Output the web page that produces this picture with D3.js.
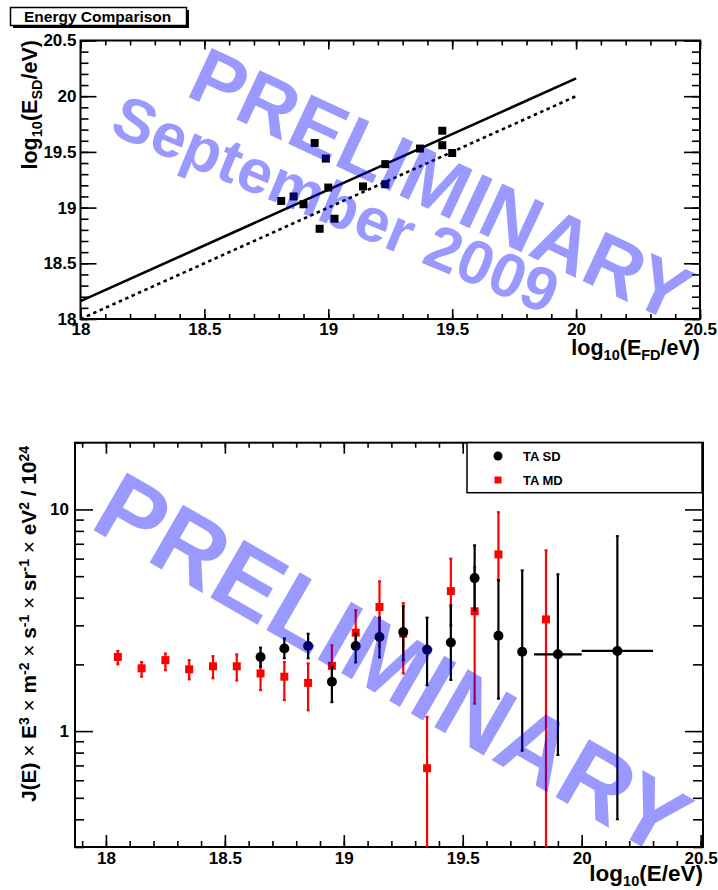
<!DOCTYPE html>
<html>
<head>
<meta charset="utf-8">
<script src="https://cdn.jsdelivr.net/npm/d3@7"></script>
<style>
  body { margin: 0; background: #fff; }
  svg { display: block; }
  text { font-family: "Liberation Sans", Arial, Helvetica, sans-serif; font-weight: bold; }
</style>
</head>
<body>
<svg id="chart" width="718" height="890"></svg>
<script>
// ---- Energy comparison: FD vs SD reconstructed energy (log10 eV) ----
const compFD = [18.81, 18.86, 18.90, 18.945, 18.965, 18.99, 19.00, 19.025, 19.14, 19.23, 19.23, 19.37, 19.46, 19.46, 19.50];
const compSD = [19.06, 19.10, 19.03, 19.58, 18.81, 19.44, 19.18, 18.90, 19.19, 19.39, 19.21, 19.53, 19.69, 19.56, 19.49];
const fitLineX = [18, 20];
const fitLineY = [18.16, 20.16];
const unityLineX = [18, 20];
const unityLineY = [18, 20];
const compTicks = [18, 18.5, 19, 19.5, 20, 20.5];

// ---- Spectrum J(E) E^3 / 10^24 ----
const sdLogE = [18.65, 18.75, 18.85, 18.95, 19.05, 19.15, 19.25, 19.35, 19.45, 19.55, 19.65, 19.75, 19.90, 20.15];
const sdFlux = [2.16, 2.36, 2.42, 1.67, 2.42, 2.66, 2.80, 2.33, 2.51, 4.90, 2.69, 2.28, 2.22, 2.30];
const sdHigh = [2.38, 2.62, 2.75, 1.95, 2.75, 3.25, 3.66, 3.25, 3.69, 6.89, 4.79, 5.31, 5.10, 7.58];
const sdLow  = [1.95, 2.13, 2.13, 1.35, 2.04, 2.15, 2.09, 1.61, 1.70, 3.51, 1.40, 0.815, 0.78, 0.40];
const sdBinLo = [null, null, null, null, null, null, null, null, null, null, null, null, 19.80, 20.00];
const sdBinHi = [null, null, null, null, null, null, null, null, null, null, null, null, 20.00, 20.30];

const mdLogE = [18.05, 18.15, 18.25, 18.35, 18.45, 18.55, 18.65, 18.75, 18.85, 18.95, 19.05, 19.15, 19.25, 19.35, 19.45, 19.55, 19.65, 19.85];
const mdFlux = [2.16, 1.92, 2.09, 1.90, 1.96, 1.96, 1.82, 1.76, 1.65, 1.97, 2.78, 3.63, 2.75, 0.68, 4.28, 3.47, 6.27, 3.19];
const mdHigh = [2.30, 2.05, 2.24, 2.09, 2.18, 2.22, 2.05, 2.05, 2.02, 2.44, 3.51, 4.74, 3.78, 1.16, 6.00, 5.50, 9.72, 6.54];
const mdLow  = [2.00, 1.76, 1.88, 1.71, 1.73, 1.69, 1.53, 1.38, 1.24, 1.70, 2.35, 2.40, 1.82, 0.10, 3.00, 1.33, 4.79, 0.10];

const specXTicks = [18, 18.5, 19, 19.5, 20, 20.5];
const specYTicks = [1, 10];
const specYMinor = [0.3, 0.4, 0.5, 0.6, 0.7, 0.8, 0.9, 2, 3, 4, 5, 6, 7, 8, 9, 20];

const seriesNames = ["TA SD", "TA MD"];
const watermarkColor = "rgb(0,0,255)";

const svg = d3.select("#chart");

function cleanAxis(g) {
  g.select(".domain").remove();
  g.selectAll(".tick line").attr("stroke", "#000").attr("stroke-width", 1.6);
  g.selectAll(".tick text").attr("fill", "#000").attr("font-size", 17).attr("font-weight", "bold")
    .attr("font-family", "'Liberation Sans', Arial, sans-serif");
}

// ===================== Upper panel =====================
const xT = d3.scaleLinear().domain([18, 20.5]).range([80.5, 700]);
const yT = d3.scaleLinear().domain([18, 20.5]).range([319, 40.5]);
const upper = svg.append("g");
const minorT = d3.range(18, 20.501, 0.1).map(v => +v.toFixed(2));

upper.append("g").attr("transform", `translate(0,${yT(18)})`)
  .call(d3.axisBottom(xT).tickValues(minorT).tickSize(-5).tickFormat("")).call(cleanAxis);
upper.append("g").attr("transform", `translate(0,${yT(18)})`)
  .call(d3.axisBottom(xT).tickValues(compTicks).tickSize(-10).tickPadding(4).tickFormat(d3.format("~g"))).call(cleanAxis);
upper.append("g").attr("transform", `translate(0,${yT(20.5)})`)
  .call(d3.axisTop(xT).tickValues(minorT).tickSize(-5).tickFormat("")).call(cleanAxis);
upper.append("g").attr("transform", `translate(0,${yT(20.5)})`)
  .call(d3.axisTop(xT).tickValues(compTicks).tickSize(-9).tickFormat("")).call(cleanAxis);
upper.append("g").attr("transform", `translate(${xT(18)},0)`)
  .call(d3.axisLeft(yT).tickValues(minorT).tickSize(-8).tickFormat("")).call(cleanAxis);
upper.append("g").attr("transform", `translate(${xT(18)},0)`)
  .call(d3.axisLeft(yT).tickValues(compTicks).tickSize(-16).tickPadding(4).tickFormat(d3.format("~g"))).call(cleanAxis);
upper.append("g").attr("transform", `translate(${xT(20.5)},0)`)
  .call(d3.axisRight(yT).tickValues(minorT).tickSize(-8).tickFormat("")).call(cleanAxis);
upper.append("g").attr("transform", `translate(${xT(20.5)},0)`)
  .call(d3.axisRight(yT).tickValues(compTicks).tickSize(-16).tickFormat("")).call(cleanAxis);

upper.append("rect").attr("x", xT(18)).attr("y", yT(20.5))
  .attr("width", xT(20.5) - xT(18)).attr("height", yT(18) - yT(20.5))
  .attr("fill", "none").attr("stroke", "#000").attr("stroke-width", 2);

const lineT = d3.line().x(d => xT(d[0])).y(d => yT(d[1]));
upper.append("path").attr("d", lineT(d3.zip(unityLineX, unityLineY)))
  .attr("stroke", "#000").attr("stroke-width", 2.6).attr("stroke-dasharray", "3.5,3.5").attr("fill", "none");
upper.append("path").attr("d", lineT(d3.zip(fitLineX, fitLineY)))
  .attr("stroke", "#000").attr("stroke-width", 2.6).attr("fill", "none");

upper.selectAll("rect.pt").data(d3.zip(compFD, compSD)).join("rect").attr("class", "pt")
  .attr("x", d => xT(d[0]) - 4).attr("y", d => yT(d[1]) - 4)
  .attr("width", 8).attr("height", 8).attr("fill", "#000");

// title box
svg.append("rect").attr("x", 13).attr("y", 10).attr("width", 176).attr("height", 18).attr("fill", "#000");
svg.append("rect").attr("x", 10.5).attr("y", 7.5).attr("width", 176).attr("height", 18)
  .attr("fill", "#fff").attr("stroke", "#000").attr("stroke-width", 1.5);
svg.append("text").attr("x", 24).attr("y", 22).attr("font-size", 15.5).text("Energy Comparison");

// axis titles with sub/superscripts
function subTitle(sel, parts, small) {
  parts.forEach(p => {
    sel.append("tspan").attr("font-size", (p.sub || p.sup) ? small : null)
      .attr("baseline-shift", p.sub ? "-35%" : p.sup ? "50%" : null)
      .attr("font-weight", p.normal ? "normal" : "bold")
      .text(p.t);
  });
}
const xTitleT = svg.append("text").attr("x", 700).attr("y", 355).attr("text-anchor", "end").attr("font-size", 21.5);
subTitle(xTitleT, [{t: "log"}, {t: "10", sub: true}, {t: "(E"}, {t: "FD", sub: true}, {t: "/eV)"}], 14.5);
const yTitleT = svg.append("text").attr("transform", "translate(37,40) rotate(-90)").attr("text-anchor", "end").attr("font-size", 21.5);
subTitle(yTitleT, [{t: "log"}, {t: "10", sub: true}, {t: "(E"}, {t: "SD", sub: true}, {t: "/eV)"}], 14.5);

// ===================== Lower panel =====================
const xB = d3.scaleLinear().domain([17.87, 20.51]).range([75, 703]);
const yB = d3.scaleLog().domain([0.3, 20]).range([847, 442.7]);
const lower = svg.append("g");
const minorB = d3.range(17.9, 20.501, 0.1).map(v => +v.toFixed(2));

lower.append("g").attr("transform", `translate(0,${yB(0.3)})`)
  .call(d3.axisBottom(xB).tickValues(minorB).tickSize(-6).tickFormat("")).call(cleanAxis);
lower.append("g").attr("transform", `translate(0,${yB(0.3)})`)
  .call(d3.axisBottom(xB).tickValues(specXTicks).tickSize(-12).tickPadding(5).tickFormat(d3.format("~g"))).call(cleanAxis);
lower.append("g").attr("transform", `translate(0,${yB(20)})`)
  .call(d3.axisTop(xB).tickValues(minorB).tickSize(-5).tickFormat("")).call(cleanAxis);
lower.append("g").attr("transform", `translate(0,${yB(20)})`)
  .call(d3.axisTop(xB).tickValues(specXTicks).tickSize(-11).tickFormat("")).call(cleanAxis);
lower.append("g").attr("transform", `translate(${xB.range()[0]},0)`)
  .call(d3.axisLeft(yB).tickValues(specYMinor).tickSize(-9).tickFormat("")).call(cleanAxis);
lower.append("g").attr("transform", `translate(${xB.range()[0]},0)`)
  .call(d3.axisLeft(yB).tickValues(specYTicks).tickSize(-18).tickPadding(6).tickFormat(d3.format("~g"))).call(cleanAxis);
lower.append("g").attr("transform", `translate(${xB.range()[1]},0)`)
  .call(d3.axisRight(yB).tickValues(specYMinor).tickSize(-10).tickFormat("")).call(cleanAxis);
lower.append("g").attr("transform", `translate(${xB.range()[1]},0)`)
  .call(d3.axisRight(yB).tickValues(specYTicks).tickSize(-18).tickFormat("")).call(cleanAxis);

lower.append("rect").attr("x", xB.range()[0]).attr("y", yB(20))
  .attr("width", xB.range()[1] - xB.range()[0]).attr("height", yB(0.3) - yB(20))
  .attr("fill", "none").attr("stroke", "#000").attr("stroke-width", 2);

svg.append("clipPath").attr("id", "plotClip").append("rect")
  .attr("x", xB.range()[0]).attr("y", yB(20))
  .attr("width", xB.range()[1] - xB.range()[0]).attr("height", yB(0.3) - yB(20));
const marks = lower.append("g").attr("clip-path", "url(#plotClip)");

// TA MD (red squares)
const md = d3.range(mdLogE.length).map(i => ({x: mdLogE[i], y: mdFlux[i], hi: mdHigh[i], lo: mdLow[i]}));
const mdG = marks.append("g");
mdG.selectAll("line.eb").data(md).join("line").attr("class", "eb")
  .attr("x1", d => xB(d.x)).attr("x2", d => xB(d.x))
  .attr("y1", d => yB(d.hi)).attr("y2", d => yB(d.lo))
  .attr("stroke", "#f00").attr("stroke-width", 2.2);
mdG.selectAll("line.cap").data(md.flatMap(d => [d.hi, d.lo].map(v => ({x: d.x, v})))).join("line").attr("class", "cap")
  .attr("x1", d => xB(d.x) - 1.5).attr("x2", d => xB(d.x) + 1.5)
  .attr("y1", d => yB(d.v)).attr("y2", d => yB(d.v))
  .attr("stroke", "#f00").attr("stroke-width", 2);
mdG.selectAll("rect").data(md).join("rect")
  .attr("x", d => xB(d.x) - 4).attr("y", d => yB(d.y) - 4)
  .attr("width", 8).attr("height", 8).attr("fill", "#f00");

// TA SD (black circles)
const sd = d3.range(sdLogE.length).map(i => ({x: sdLogE[i], y: sdFlux[i], hi: sdHigh[i], lo: sdLow[i], bl: sdBinLo[i], bh: sdBinHi[i]}));
const sdG = marks.append("g");
sdG.selectAll("line.eb").data(sd).join("line").attr("class", "eb")
  .attr("x1", d => xB(d.x)).attr("x2", d => xB(d.x))
  .attr("y1", d => yB(d.hi)).attr("y2", d => yB(d.lo))
  .attr("stroke", "#000").attr("stroke-width", 2.2);
sdG.selectAll("line.cap").data(sd.flatMap(d => [d.hi, d.lo].map(v => ({x: d.x, v})))).join("line").attr("class", "cap")
  .attr("x1", d => xB(d.x) - 1.5).attr("x2", d => xB(d.x) + 1.5)
  .attr("y1", d => yB(d.v)).attr("y2", d => yB(d.v))
  .attr("stroke", "#000").attr("stroke-width", 2);
sdG.selectAll("line.xb").data(sd.filter(d => d.bl !== null)).join("line").attr("class", "xb")
  .attr("x1", d => xB(d.bl)).attr("x2", d => xB(d.bh))
  .attr("y1", d => yB(d.y)).attr("y2", d => yB(d.y))
  .attr("stroke", "#000").attr("stroke-width", 2.2);
sdG.selectAll("circle").data(sd).join("circle")
  .attr("cx", d => xB(d.x)).attr("cy", d => yB(d.y)).attr("r", 5).attr("fill", "#000");

// legend
const leg = svg.append("g");
leg.append("rect").attr("x", 467).attr("y", 442.7).attr("width", 235).attr("height", 50)
  .attr("fill", "#fff").attr("stroke", "#000").attr("stroke-width", 1.5);
leg.append("circle").attr("cx", 498).attr("cy", 456).attr("r", 4.5).attr("fill", "#000");
leg.append("rect").attr("x", 494.5).attr("y", 476.5).attr("width", 7).attr("height", 7).attr("fill", "#f00");
leg.selectAll("text").data(seriesNames).join("text")
  .attr("x", 523).attr("y", (d, i) => 460.5 + i * 24).attr("font-size", 13).text(d => d);

// axis titles (lower)
const xTitleB = svg.append("text").attr("x", 703).attr("y", 881).attr("text-anchor", "end").attr("font-size", 22.5);
subTitle(xTitleB, [{t: "log"}, {t: "10", sub: true}, {t: "(E/eV)"}], 14.5);
const yTitleB = svg.append("text").attr("transform", "translate(36,446) rotate(-90)").attr("text-anchor", "end").attr("font-size", 20.8);
subTitle(yTitleB, [
  {t: "J(E)"}, {t: " × ", normal: true}, {t: "E"}, {t: "3", sup: true}, {t: " × ", normal: true},
  {t: "m"}, {t: "-2", sup: true}, {t: " × ", normal: true}, {t: "s"}, {t: "-1", sup: true}, {t: " × ", normal: true},
  {t: "sr"}, {t: "-1", sup: true}, {t: " × ", normal: true}, {t: "eV"}, {t: "2", sup: true}, {t: " / 10"}, {t: "24", sup: true}
], 14);

// PRELIMINARY stamps
const wm = svg.append("g").attr("fill", watermarkColor).attr("fill-opacity", 0.4);
wm.append("text").attr("transform", "translate(184,95) rotate(25)").attr("font-size", 79).text("PRELIMINARY");
wm.append("text").attr("transform", "translate(108,133) rotate(22.5)").attr("font-size", 62).text("September 2009");
wm.append("text").attr("transform", "translate(88,527) rotate(30)").attr("font-size", 97).text("PRELIMINARY");
</script>
</body>
</html>
